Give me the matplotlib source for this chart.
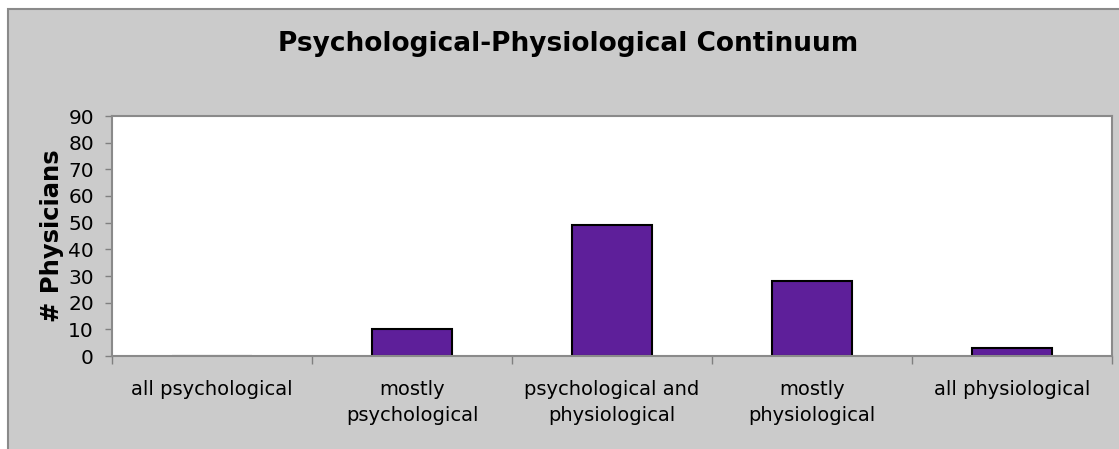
import matplotlib
matplotlib.use("Agg")
import matplotlib.pyplot as plt
from matplotlib.patches import Rectangle
import numpy as np

categories = ["all psychological", "mostly\npsychological", "psychological and\nphysiological",
              "mostly\nphysiological", "all physiological"]
values = [0, 10, 49, 28, 3]
yticks = [0, 10, 20, 30, 40, 50, 60, 70, 80, 90]
title = "Psychological-Physiological Continuum"
ylabel = "# Physicians"

W, H = 1119, 449
fig = plt.figure(figsize=(W / 100, H / 100), dpi=100, facecolor="white")

# outer gray chart area
bg = Rectangle((8 / W, -0.01), 1.02, (H - 9) / H + 0.01, transform=fig.transFigure,
               facecolor="#cbcbcb", edgecolor="#8a8a8a", linewidth=1.5, zorder=-10)
fig.patches.append(bg)

ax = fig.add_axes([112 / W, 93 / H, 1000 / W, 240 / H])
ax.set_zorder(1)
ax.set_facecolor("white")
x = np.arange(len(categories))
ax.bar(x, values, width=0.4, color="#5e1f9a", edgecolor="black", linewidth=1.5, zorder=2)

ax.set_xlim(-0.5, len(categories) - 0.5)
ax.set_ylim(0, 90)
ax.set_yticks(yticks)
ax.set_yticklabels([str(t) for t in yticks], fontsize=14.5)
ax.set_xticks(x)
ax.set_xticklabels(categories, fontsize=14, linespacing=1.5)
ax.set_xticks(np.arange(-0.5, len(categories)), minor=True)
ax.tick_params(axis="x", which="major", length=0, pad=17)
ax.tick_params(axis="x", which="minor", length=6, color="#808080", width=1)
ax.tick_params(axis="y", length=5, color="#808080", width=1, pad=8)
for s in ax.spines.values():
    s.set_color("#8a8a8a")
    s.set_linewidth(1.5)
    s.set_zorder(3)

ax.set_ylabel(ylabel, fontsize=17.5, fontweight="bold", labelpad=3)
fig.text(568 / W, 1 - 44 / H, title, ha="center", va="center",
         fontsize=19, fontweight="bold", zorder=5)

fig.savefig("out.png", dpi=100, facecolor=fig.get_facecolor())
